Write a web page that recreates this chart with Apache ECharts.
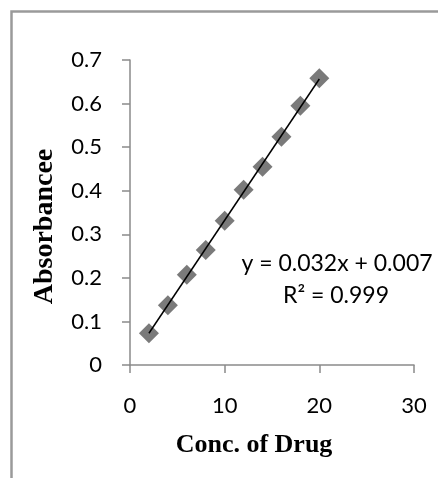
<!DOCTYPE html>
<html>
<head>
<meta charset="utf-8">
<script src="https://cdn.jsdelivr.net/npm/echarts@6/dist/echarts.min.js"></script>
<style>
html,body{margin:0;padding:0;background:#fff;}
#c{width:438px;height:478px;}
</style>
</head>
<body>
<div id="c"></div>
<script>
const concentrations = [2, 4, 6, 8, 10, 12, 14, 16, 18, 20];
const absorbance = [0.073, 0.137, 0.207, 0.264, 0.331, 0.402, 0.455, 0.524, 0.595, 0.658];
const xTicks = [0, 10, 20, 30];
const yTicks = [0, 0.1, 0.2, 0.3, 0.4, 0.5, 0.6, 0.7];
const equationText = 'y = 0.032x + 0.007';
const r2Text = 'R² = 0.999';
const xTitle = 'Conc. of Drug';
const yTitle = 'Absorbancee';

// least-squares trendline from the data
const n = concentrations.length;
const mx = concentrations.reduce((a, b) => a + b, 0) / n;
const my = absorbance.reduce((a, b) => a + b, 0) / n;
let sxy = 0, sxx = 0;
for (let i = 0; i < n; i++) {
  sxy += (concentrations[i] - mx) * (absorbance[i] - my);
  sxx += (concentrations[i] - mx) ** 2;
}
const slope = sxy / sxx;
const intercept = my - slope * mx;
const xMin = concentrations[0], xMax = concentrations[n - 1];
const trend = [[xMin, intercept + slope * xMin], [xMax, intercept + slope * xMax]];

const axisGray = '#8a8a8a';
const chart = echarts.init(document.getElementById('c'));
chart.setOption({
  animation: false,
  backgroundColor: '#fff',
  grid: { left: 130, top: 60, right: 24, bottom: 113, containLabel: false },
  xAxis: {
    type: 'value', min: xTicks[0], max: xTicks[xTicks.length - 1], interval: 10,
    splitLine: { show: false },
    axisLine: { show: true, onZero: false, lineStyle: { color: axisGray, width: 1.5 } },
    axisTick: { show: true, inside: false, length: 8, lineStyle: { color: axisGray, width: 1.5 } },
    axisLabel: { margin: 30, fontFamily: 'Lato', fontSize: 22, color: '#000' },
    name: xTitle, nameLocation: 'middle', nameGap: 67,
    nameTextStyle: { fontFamily: 'Liberation Serif', fontWeight: 'bold', fontSize: 26, color: '#000', padding: [0, 36, 0, 0] }
  },
  yAxis: {
    type: 'value', min: yTicks[0], max: yTicks[yTicks.length - 1], interval: 0.1,
    splitLine: { show: false },
    axisLine: { show: true, onZero: false, lineStyle: { color: axisGray, width: 1.5 } },
    axisTick: { show: true, inside: false, length: 8, lineStyle: { color: axisGray, width: 1.5 } },
    axisLabel: { margin: 28, fontFamily: 'Lato', fontSize: 22, color: '#000',
      formatter: v => (Math.round(v * 10) / 10).toString() },
    name: yTitle, nameLocation: 'middle', nameGap: 71,
    nameTextStyle: { fontFamily: 'Liberation Serif', fontWeight: 'bold', fontSize: 28, color: '#000', padding: [0, 28, 0, 0] }
  },
  graphic: [
    { type: 'rect', left: 9, top: 9, z: -1, silent: true,
      shape: { width: 500, height: 500 },
      style: { fill: 'none', stroke: '#9a9a9a', lineWidth: 2.5 } },
    { type: 'text', x: 337, y: 264, silent: true,
      style: { text: equationText, font: '23px Lato', fill: '#000', textAlign: 'center', textVerticalAlign: 'middle' } },
    { type: 'text', x: 336, y: 296, silent: true,
      style: { text: r2Text, font: '23px Lato', fill: '#000', textAlign: 'center', textVerticalAlign: 'middle' } }
  ],
  series: [
    { type: 'scatter', data: concentrations.map((x, i) => [x, absorbance[i]]),
      symbol: 'diamond', symbolSize: 20, itemStyle: { color: '#595959' }, z: 2 },
    { type: 'line', data: trend, showSymbol: false, symbol: 'none',
      lineStyle: { color: '#000', width: 1.5 }, z: 3 }
  ]
});
</script>
</body>
</html>
